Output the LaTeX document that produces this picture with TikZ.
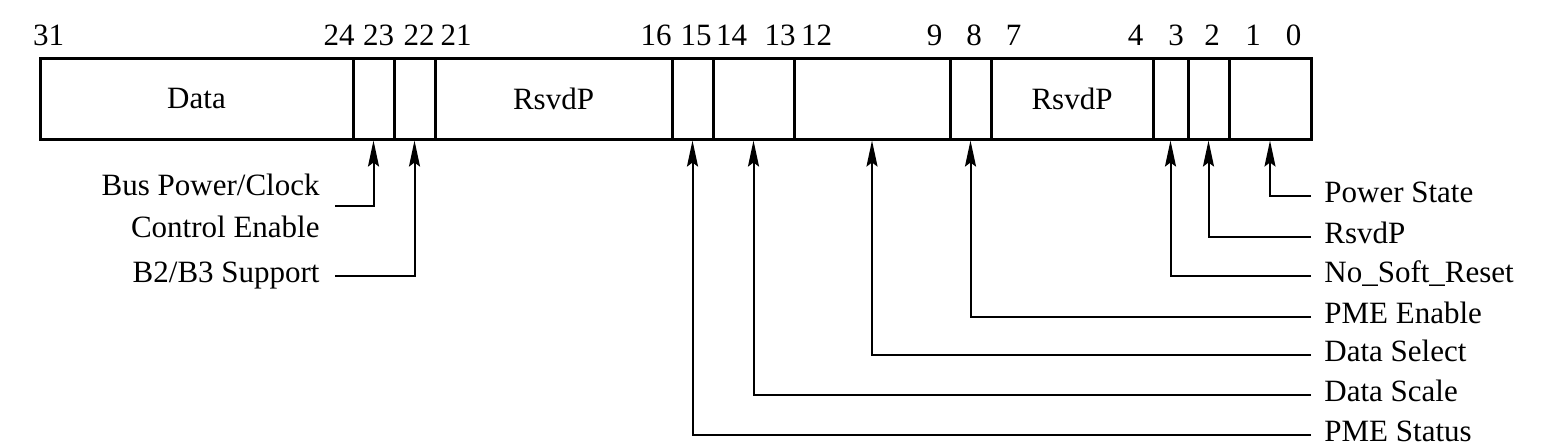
\documentclass[tikz,border=0pt]{standalone}
\usepackage{fontspec}
\setmainfont{Liberation Serif}
\usetikzlibrary{arrows.meta}
\begin{document}
\begin{tikzpicture}[x=0.5pt,y=-0.5pt,
  every node/.style={font=\fontsize{15.5}{21}\selectfont},
  fieldbox/.style={draw, line width=1.5pt, rectangle, inner sep=0pt, minimum height=40.5pt},
  bitnum/.style={inner sep=0pt},
  lbl/.style={inner sep=0pt, text height=0.68em, text depth=0pt},
  arr/.style={line width=1pt, -{Stealth[length=13pt,width=5.5pt,inset=2pt]}}]
\useasboundingbox (0,0) rectangle (1549,446);
% register fields
\node[fieldbox, minimum width=156.5pt] (f31) at (196.5,98.5) {Data};
\node[fieldbox, minimum width=20.5pt] (f23) at (373.5,98.5) {};
\node[fieldbox, minimum width=20.5pt] (f22) at (414.5,98.5) {};
\node[fieldbox, minimum width=118.5pt] (f21) at (553.5,98.5) {RsvdP};
\node[fieldbox, minimum width=20.5pt] (f15) at (692.5,98.5) {};
\node[fieldbox, minimum width=40.5pt] (f14) at (753.5,98.5) {};
\node[fieldbox, minimum width=78pt] (f12) at (872,98.5) {};
\node[fieldbox, minimum width=20.5pt] (f8) at (970.5,98.5) {};
\node[fieldbox, minimum width=81pt] (f7) at (1072,98.5) {RsvdP};
\node[fieldbox, minimum width=17.5pt] (f3) at (1170.5,98.5) {};
\node[fieldbox, minimum width=20.5pt] (f2) at (1208.5,98.5) {};
\node[fieldbox, minimum width=41pt] (f1) at (1270,98.5) {};
% bit numbers
\foreach \n/\x in {31/48.7,24/339,23/378.5,22/419,21/456,16/656,15/696,14/731.5,13/780,12/816.5,9/934.6,8/974,7/1013.5,4/1135.5,3/1176,2/1212,1/1253,0/1293.6}
  \node[bitnum] (b\n) at (\x,35) {\n};
% right labels
\node[lbl, anchor=west] (ps)  at (1324,196) {Power State};
\node[lbl, anchor=west] (rp)  at (1324,237) {RsvdP};
\node[lbl, anchor=west] (nsr) at (1324,276) {No\_Soft\_Reset};
\node[lbl, anchor=west] (pmee) at (1324,317) {PME Enable};
\node[lbl, anchor=west] (dsel) at (1324,355) {Data Select};
\node[lbl, anchor=west] (dsc) at (1324,395) {Data Scale};
\node[lbl, anchor=west] (pmes) at (1324,435) {PME Status};
% left labels
\node[inner sep=0pt, anchor=east, align=right] (bus) at (320,206) {Bus Power/Clock\\Control Enable};
\node[lbl, anchor=east] (b23) at (320,276) {B2/B3 Support};
% connectors
\draw[arr] ([xshift=-6.5pt]ps.west) -| (f1.south);
\draw[arr] ([xshift=-6.5pt]rp.west) -| (f2.south);
\draw[arr] ([xshift=-6.5pt]nsr.west) -| (f3.south);
\draw[arr] ([xshift=-6.5pt]pmee.west) -| (f8.south);
\draw[arr] ([xshift=-6.5pt]dsel.west) -| (f12.south);
\draw[arr] ([xshift=-6.5pt]dsc.west) -| (f14.south);
\draw[arr] ([xshift=-6.5pt]pmes.west) -| (f15.south);
\draw[arr] ([xshift=7.5pt]bus.east) -| (f23.south);
\draw[arr] ([xshift=7.5pt]b23.east) -| (f22.south);
\end{tikzpicture}
\end{document}
